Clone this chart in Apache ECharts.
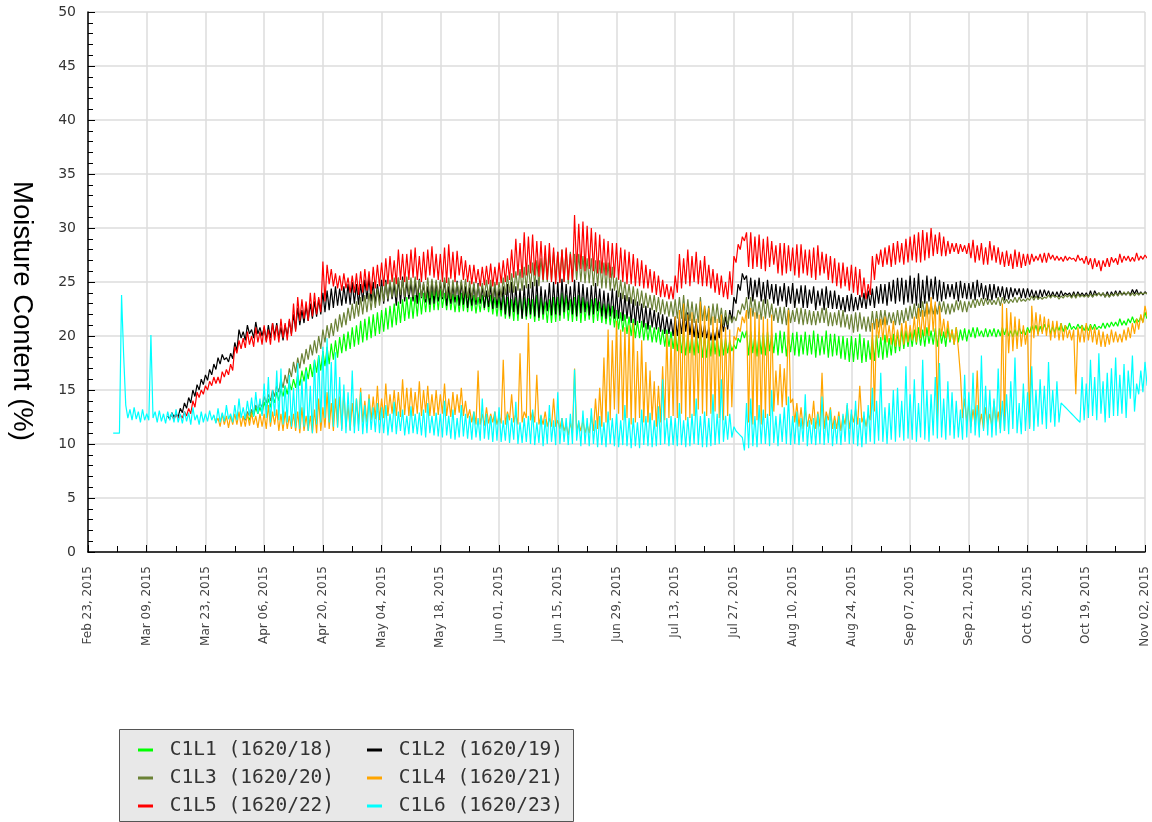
<!DOCTYPE html>
<html>
<head>
<meta charset="utf-8">
<title>Moisture Content</title>
<script src="https://cdn.jsdelivr.net/npm/echarts@6/dist/echarts.min.js"></script>
<style>
  html, body { margin: 0; padding: 0; background: #fff; }
  #chart { width: 1152px; height: 822px; }
</style>
</head>
<body>
<div id="chart"></div>
<script>
// x values are day numbers counted from Feb 23, 2015 (day 0)
const axisStart = Date.UTC(2015, 1, 23)
const dayMin = 0
const dayMax = 252
const tickDays = 14
const monthNames = ['Jan', 'Feb', 'Mar', 'Apr', 'May', 'Jun', 'Jul', 'Aug', 'Sep', 'Oct', 'Nov', 'Dec']

const yTitle = 'Moisture Content (%)'
const seriesNames = ['C1L1 (1620/18)', 'C1L2 (1620/19)', 'C1L3 (1620/20)', 'C1L4 (1620/21)', 'C1L5 (1620/22)', 'C1L6 (1620/23)']

// daily high and daily low readings, one pair per day from the start day
const c1l1Start = 38
const c1l1High = [
  12.6, 13.0, 13.4, 13.4,
  13.9, 14.2, 14.5, 14.8, 15.1, 15.4, 15.7,
  16.0, 16.4, 16.8, 17.1, 17.4, 17.8, 18.2,
  18.6, 19.0, 19.3, 19.6, 19.9, 20.2, 20.4,
  20.8, 21.0, 21.4, 21.6, 21.8, 22.0, 22.2,
  22.4, 22.6, 22.8, 23.0, 23.2, 23.4, 23.6,
  23.6, 23.8, 24.0, 24.0, 24.2, 24.2, 24.3,
  24.3, 24.0, 24.1, 23.9, 23.8, 24.0, 24.1,
  23.9, 23.8, 23.6, 23.8, 24.0, 23.8, 23.6,
  23.6, 23.8, 23.6, 23.4, 23.6, 23.9, 23.6,
  23.5, 23.4, 23.8, 23.6, 23.2, 23.4, 23.6,
  23.6, 24.0, 23.8, 23.4, 23.6, 23.8, 23.6,
  23.2, 23.4, 23.5, 23.2, 23.0, 23.0, 22.8,
  22.4, 22.2, 22.0, 21.8, 21.6, 21.4, 21.4,
  21.2, 21.0, 20.8, 20.8, 20.6, 20.6, 20.4,
  20.4, 20.6, 20.4, 20.2, 20.2, 20.5, 20.4,
  20.0, 20.2, 20.4, 20.0, 19.8, 19.8, 19.6,
  19.2, 19.8, 20.4,
  20.5, 20.4, 20.2, 20.4, 20.3, 20.4, 20.2,
  20.3, 20.5, 20.4, 20.0, 20.3, 20.4, 20.1,
  20.4, 20.1, 20.5, 20.2, 20.0, 20.5, 20.2,
  20.2, 20.0, 20.0, 19.8,
  20.0, 19.8, 20.2, 19.8, 19.6, 19.9, 20.1,
  19.9, 20.1, 19.8, 20.2, 20.4, 20.6, 20.5,
  20.4, 20.6, 20.8, 20.6, 20.8, 20.5, 20.7,
  20.7, 20.4, 20.8, 20.6, 20.8, 20.6, 20.7,
  20.6, 20.8, 20.8, 20.5, 20.7, 20.6, 20.7,
  20.6, 20.8, 20.8, 20.5, 20.6, 20.8, 20.6,
  20.8, 21.0, 21.0, 20.9, 21.1, 21.1, 20.9,
  21.0, 21.2, 21.0, 21.2, 20.9, 21.1, 21.0,
  21.0, 21.1, 21.1, 20.9, 21.2, 21.2, 21.3,
  21.3, 21.6, 21.4, 21.6, 21.8, 21.6, 21.8, 22.2
]
const c1l1Low = [
  12.2, 12.6, 12.8, 12.8,
  13.2, 13.4, 13.8, 14.0, 14.4, 14.6, 15.0,
  15.2, 15.4, 15.8, 16.0, 16.2, 16.6, 16.8,
  17.2, 17.4, 17.8, 18.0, 18.4, 18.6, 18.8,
  19.0, 19.2, 19.4, 19.6, 19.8, 20.0, 20.2,
  20.4, 20.6, 20.8, 21.0, 21.2, 21.4, 21.6,
  21.6, 21.8, 22.0, 22.2, 22.2, 22.4, 22.4,
  22.6, 22.4, 22.4, 22.2, 22.2, 22.3, 22.2,
  22.3, 22.1, 22.2, 22.4, 22.2, 22.0, 21.8,
  21.8, 21.6, 21.6, 21.4, 21.4, 21.6, 21.5,
  21.6, 21.3, 21.4, 21.5, 21.2, 21.2, 21.3,
  21.4, 21.6, 21.4, 21.3, 21.4, 21.2, 21.4,
  21.5, 21.2, 21.4, 21.2, 21.1, 21.0, 20.8,
  20.6, 20.4, 20.2, 20.0, 19.8, 19.8, 19.6,
  19.6, 19.4, 19.4, 19.2, 19.0, 19.0, 18.8,
  18.6, 18.4, 18.2, 18.4, 18.2, 18.4, 18.0,
  18.0, 18.1, 18.3, 18.1, 18.2, 18.4, 18.6,
  18.8, 19.4, 19.8,
  18.2, 18.4, 18.1, 18.3, 18.2, 18.6, 18.4,
  18.2, 18.4, 18.1, 18.5, 18.2, 18.1, 18.3,
  18.2, 18.3, 18.0, 18.2, 18.3, 18.0, 18.1,
  18.2, 17.9, 17.8, 17.6,
  17.6, 17.8, 17.5, 17.6, 17.8, 17.7, 18.0,
  17.8, 18.0, 18.2, 18.4, 18.6, 18.8, 19.0,
  19.0, 19.2, 19.1, 19.0, 19.3, 19.2, 19.0,
  19.3, 19.0, 19.4, 19.2, 19.4, 19.6, 19.5,
  19.9, 19.8, 20.0, 19.9, 19.9, 20.0, 19.9,
  20.0, 20.1, 20.0, 19.9, 20.0, 20.2, 20.1,
  20.3, 20.4, 20.2, 20.4, 20.5, 20.2, 20.3,
  20.5, 20.4, 20.6, 20.6, 20.6, 20.7, 20.5,
  20.5, 20.6, 20.6, 20.7, 20.7, 20.8, 20.9,
  20.9, 21.0, 21.0, 21.2, 21.2, 21.3, 21.3, 21.6
]

const c1l2Start = 19
const c1l2High = [
  12.6, 12.9, 12.8, 13.3, 13.8, 14.3, 15.0, 15.5, 16.0,
  16.4, 16.9, 17.4, 18.0, 18.3, 18.0, 18.4,
  19.4, 20.6, 20.4, 21.0, 20.6, 21.3, 20.8,
  20.8, 21.0, 21.2, 21.2, 20.8, 21.0, 21.4,
  22.0, 22.6, 22.4, 22.8, 23.0, 23.2, 23.4,
  24.0, 24.2, 24.4, 24.6, 24.4, 24.6, 24.8,
  25.0, 24.8, 24.8, 25.2, 25.4, 25.0, 24.8,
  25.2, 25.2, 24.9, 24.8, 25.4, 25.5, 25.0,
  24.9, 25.2, 25.3, 24.8, 24.6, 25.1, 25.0,
  25.0, 25.2, 24.6, 24.7, 25.1, 25.0, 24.6,
  24.5, 24.8, 24.9, 24.6, 24.2, 24.7, 24.8,
  24.4, 24.6, 24.8, 25.0, 24.6, 24.4, 24.7,
  24.8, 25.0, 25.2, 24.6, 24.3, 24.9, 25.0,
  25.0, 25.3, 24.8, 24.6, 25.2, 25.0, 24.8,
  24.5, 24.7, 24.9, 24.4, 24.2, 24.0, 24.4,
  24.2, 24.0, 23.8, 23.6, 23.4, 23.2, 23.0,
  22.8, 22.6, 22.4, 22.2, 22.0, 21.8, 21.6,
  21.8, 21.8, 22.2, 22.2, 21.6, 21.4, 21.2,
  21.0, 20.8, 20.6, 20.8, 21.6, 21.8, 22.4,
  23.6, 24.8, 25.8,
  25.6, 25.4, 25.2, 25.4, 25.0, 25.2, 24.8,
  24.8, 24.6, 24.9, 24.6, 24.9, 24.4, 24.7,
  24.7, 24.3, 24.6, 24.2, 24.4, 24.6, 24.2,
  24.2, 23.8, 23.6, 23.8,
  23.9, 23.6, 23.8, 24.0, 24.2, 24.4, 24.6,
  24.8, 24.8, 25.0, 25.2, 25.4, 25.4, 25.2,
  25.6, 25.4, 25.8, 25.2, 25.6, 25.3, 25.5,
  25.2, 25.0, 24.8, 24.8, 25.0, 25.1, 24.9,
  24.9, 25.0, 25.2, 24.9, 24.7, 24.8, 24.8,
  24.6, 24.6, 24.5, 24.5, 24.4, 24.4, 24.4,
  24.4, 24.3, 24.2, 24.3, 24.3, 24.2, 24.1,
  24.1, 24.2, 24.0, 24.0, 24.1, 24.1, 24.0,
  24.0, 24.2, 24.2, 24.0, 24.0, 24.1, 24.1,
  24.2, 24.2, 24.0, 24.1, 24.3, 24.3, 24.1, 24.1
]
const c1l2Low = [
  12.3, 12.5, 12.5, 12.9, 13.3, 13.8, 14.4, 15.0, 15.5,
  15.9, 16.4, 16.9, 17.4, 17.8, 17.6, 17.9,
  18.6, 19.8, 19.6, 20.2, 19.8, 20.2, 20.0,
  19.6, 19.8, 20.0, 19.8, 19.6, 20.0, 20.2,
  20.6, 21.0, 21.2, 21.4, 21.6, 21.8, 22.0,
  22.2, 22.4, 22.6, 22.8, 22.8, 23.0, 22.9,
  23.0, 22.9, 23.2, 23.4, 23.2, 23.0, 23.2,
  23.0, 23.2, 23.4, 22.8, 23.0, 23.2, 23.4,
  23.2, 23.0, 23.5, 23.1, 22.9, 23.0, 23.2,
  23.4, 22.8, 23.0, 23.1, 22.8, 22.9, 22.6,
  22.8, 22.9, 23.0, 22.6, 22.7, 22.5, 22.6,
  22.4, 22.0, 21.8, 22.2, 22.0, 21.6, 21.8,
  22.0, 21.8, 21.7, 22.0, 22.3, 21.9, 22.0,
  21.9, 22.2, 22.4, 22.0, 21.8, 22.1, 22.2,
  21.9, 22.0, 22.3, 21.8, 21.6, 21.8, 21.6,
  21.6, 21.4, 21.6, 21.2, 21.0, 21.2, 20.8,
  20.6, 20.8, 20.6, 20.4, 20.2, 20.2, 20.0,
  20.0, 20.2, 20.4, 20.1, 19.9, 19.8, 19.9,
  19.8, 19.6, 19.6, 19.8, 20.4, 20.6, 21.4,
  23.0, 24.2, 25.2,
  23.4, 23.2, 23.6, 23.2, 23.0, 23.4, 23.0,
  22.8, 23.2, 22.7, 23.0, 22.6, 23.0, 22.6,
  22.6, 23.0, 22.4, 22.8, 22.4, 22.6, 22.5,
  22.5, 22.4, 22.2, 22.3,
  22.3, 22.4, 22.6, 22.5, 22.8, 22.6, 23.0,
  23.0, 22.8, 23.2, 23.0, 23.2, 22.9, 23.1,
  23.0, 22.8, 22.6, 23.0, 23.2, 23.4, 23.2,
  23.2, 23.4, 23.6, 23.4, 23.2, 23.5, 23.4,
  23.4, 23.3, 23.6, 23.4, 23.3, 23.3, 23.5,
  23.6, 23.3, 23.4, 23.6, 23.8, 23.5, 23.5,
  23.6, 23.5, 23.4, 23.6, 23.7, 23.6, 23.6,
  23.6, 23.7, 23.8, 23.6, 23.6, 23.7, 23.7,
  23.6, 23.6, 23.8, 23.7, 23.6, 23.6, 23.7,
  23.7, 23.8, 23.8, 23.8, 23.9, 23.8, 23.8, 23.9
]

const c1l3Start = 37
const c1l3High = [
  12.6, 13.0, 13.2, 13.6, 13.8,
  14.4, 14.6, 15.0, 15.4, 16.0, 16.4, 17.0,
  17.6, 18.0, 18.4, 18.8, 19.2, 19.6, 20.0,
  20.6, 21.0, 21.2, 21.6, 22.0, 22.2, 22.6,
  23.0, 23.2, 23.6, 23.8, 24.0, 24.2, 24.4,
  24.6, 25.0, 25.2, 25.4, 25.4, 25.2, 25.5,
  25.4, 25.5, 25.2, 25.0, 25.4, 25.3, 25.2,
  25.2, 25.4, 25.4, 25.2, 25.0, 25.2, 25.3,
  25.1, 25.0, 24.8, 24.9, 25.2, 25.2, 25.0,
  25.0, 25.4, 25.6, 25.8, 26.0, 26.2, 26.4,
  26.6, 26.8, 27.0, 27.2, 27.4, 27.6, 27.8,
  27.8, 28.0, 28.0, 27.8, 27.6, 27.6, 27.4,
  27.2, 27.2, 27.0, 27.0, 26.8, 26.8, 26.4,
  25.4, 25.2, 25.0, 24.8, 24.6, 24.4, 24.2,
  24.0, 23.8, 23.8, 23.6, 23.4, 23.2, 23.2,
  23.4, 23.6, 23.8, 23.4, 23.2, 23.0, 23.6,
  22.8, 22.8, 23.0, 23.0, 22.6, 22.4, 22.0,
  21.8, 22.4, 23.0,
  23.6, 23.6, 23.4, 23.2, 23.4, 23.4, 23.0,
  22.6, 22.7, 22.7, 22.6, 22.4, 22.6, 22.6,
  22.5, 22.4, 22.3, 22.3, 22.6, 22.6, 22.2,
  22.2, 22.4, 22.4, 22.0,
  22.0, 22.2, 22.2, 21.8, 21.8, 22.3, 22.3,
  22.4, 22.4, 22.2, 22.2, 22.4, 22.4, 22.6,
  22.8, 23.0, 23.0, 23.2, 23.2, 23.0, 22.9,
  23.2, 23.2, 23.0, 23.0, 23.3, 23.3, 23.2,
  23.2, 23.4, 23.4, 23.5, 23.5, 23.4, 23.3,
  23.6, 23.6, 23.4, 23.4, 23.6, 23.6, 23.4,
  23.5, 23.7, 23.7, 23.6, 23.6, 23.8, 23.8,
  23.7, 23.7, 23.8, 23.8, 23.9, 23.9, 23.8,
  23.8, 23.9, 23.9, 24.0, 24.0, 23.9, 23.9,
  24.0, 24.0, 24.1, 24.1, 24.0, 24.0, 24.0, 24.0
]
const c1l3Low = [
  12.2, 12.6, 12.8, 13.2, 13.4,
  13.8, 14.0, 14.4, 14.8, 15.2, 15.6, 16.2,
  16.6, 17.0, 17.4, 17.8, 18.2, 18.4, 18.8,
  19.4, 19.8, 20.0, 20.4, 20.8, 21.0, 21.4,
  21.6, 21.8, 22.0, 22.2, 22.4, 22.6, 22.8,
  23.2, 23.4, 23.6, 23.6, 23.8, 23.6, 23.8,
  23.6, 23.8, 23.6, 23.4, 23.5, 23.7, 23.6,
  23.6, 23.5, 23.4, 23.6, 23.8, 23.6, 23.5,
  23.5, 23.3, 23.4, 23.6, 23.6, 23.4, 23.4,
  23.6, 23.8, 24.0, 24.0, 24.2, 24.2, 24.4,
  24.4, 24.6, 24.6, 25.0, 25.0, 25.2, 25.2,
  25.0, 25.0, 24.8, 25.0, 25.2, 25.0, 24.9,
  24.9, 24.6, 24.6, 24.4, 24.4, 24.2, 24.2,
  23.6, 23.4, 23.2, 23.0, 22.8, 22.8, 22.6,
  22.6, 22.4, 22.2, 22.0, 22.0, 21.8, 21.8,
  21.6, 21.6, 21.4, 21.4, 21.2, 21.2, 21.4,
  21.4, 21.0, 21.2, 21.2, 21.0, 21.0, 21.2,
  21.4, 22.0, 22.4,
  21.6, 21.8, 21.6, 21.5, 21.6, 21.7, 21.4,
  21.2, 21.1, 21.0, 21.2, 21.3, 21.1, 21.0,
  21.1, 21.0, 21.0, 21.2, 21.2, 20.9, 20.9,
  21.0, 20.8, 20.8, 20.6,
  20.3, 20.4, 20.6, 20.4, 20.4, 20.6, 20.8,
  21.0, 21.0, 21.2, 21.0, 21.0, 21.2, 21.4,
  21.6, 21.6, 21.8, 21.8, 22.0, 22.0, 22.0,
  22.2, 22.0, 22.0, 22.2, 22.4, 22.2, 22.2,
  22.6, 22.6, 22.8, 22.8, 22.9, 22.9, 22.9,
  22.8, 23.0, 23.0, 23.1, 23.1, 23.2, 23.2,
  23.3, 23.3, 23.4, 23.4, 23.5, 23.5, 23.6,
  23.4, 23.5, 23.6, 23.5, 23.5, 23.6, 23.6,
  23.6, 23.6, 23.7, 23.7, 23.6, 23.6, 23.7,
  23.7, 23.8, 23.8, 23.7, 23.7, 23.8, 23.9, 23.9
]

const c1l4Start = 30
const c1l4High = [
  12.6, 12.4, 12.8, 12.6, 12.6,
  12.8, 13.0, 12.6, 12.8, 12.9, 12.6, 12.8,
  12.8, 13.6, 13.0, 13.2, 12.8, 13.0, 12.6,
  12.8, 13.0, 13.4, 12.6, 12.6, 13.2, 14.2,
  13.4, 14.8, 13.8, 14.2, 14.4, 14.9, 13.6,
  13.8, 14.2, 15.2, 14.0, 14.6, 14.4, 15.4,
  14.2, 15.6, 14.6, 15.0, 14.8, 16.0, 15.2,
  15.2, 14.8, 15.8, 15.0, 15.4, 14.6, 15.0,
  14.6, 15.6, 14.2, 14.8, 14.6, 15.2, 14.0,
  13.2, 13.0, 16.8, 12.8, 13.4, 12.8, 13.0,
  12.6, 17.8, 13.0, 14.6, 12.8, 18.4, 13.0,
  21.2, 13.0, 16.4, 12.6, 13.0, 12.4, 14.2,
  12.2, 12.4, 11.8, 12.0, 17.0, 12.0, 12.2,
  11.8, 12.6, 14.2, 15.2, 18.0, 20.6, 19.6,
  21.4, 20.6, 20.8, 21.0, 21.2, 18.6, 19.6,
  17.6, 16.8, 15.8, 15.4, 17.2, 20.2, 19.8,
  21.8, 22.4, 23.0, 22.0, 22.2, 21.6, 23.2,
  22.8, 22.6, 21.8, 21.6, 22.0, 20.8, 20.6,
  20.0, 20.8, 21.8,
  22.4, 22.6, 22.2, 22.0, 21.8, 21.6, 22.0,
  16.8, 17.4, 17.0, 22.4, 14.2, 13.8, 13.4,
  13.2, 12.8, 14.0, 13.0, 16.6, 13.0, 13.4,
  12.6, 13.0, 12.6, 13.6,
  12.8, 13.2, 15.4, 12.6, 12.8, 21.2, 21.6,
  21.6, 21.8, 21.0, 21.4, 20.6, 21.2, 21.4,
  21.0, 21.8, 22.6, 22.4, 23.0, 23.6, 23.2,
  22.8, 21.6, 21.4, 20.6, 20.8, 16.4, 14.2,
  13.8, 13.2, 16.8, 12.8, 13.4, 12.8, 14.0,
  13.0, 23.0, 22.6, 22.2, 21.8, 21.6, 21.0,
  20.6, 22.8, 22.2, 22.0, 21.8, 21.6, 21.4,
  21.4, 21.2, 21.0, 20.6, 20.6, 20.8, 21.0,
  21.2, 21.0, 20.8, 20.6, 20.4, 20.2, 20.6,
  20.4, 20.2, 20.6, 20.8, 21.2, 21.6, 22.0, 22.8
]
const c1l4Low = [
  12.0, 11.6, 11.8, 11.5, 11.8,
  11.8, 11.6, 11.6, 11.7, 11.8, 11.5, 11.6,
  11.4, 11.6, 11.8, 11.2, 11.2, 11.4, 11.4,
  11.2, 11.0, 11.2, 11.2, 11.0, 11.0, 11.2,
  11.5, 11.4, 11.2, 11.6, 11.4, 11.6, 11.3,
  11.6, 11.8, 12.0, 12.0, 12.2, 12.3, 12.2,
  12.4, 12.6, 12.8, 12.6, 12.5, 12.7, 12.6,
  12.6, 12.8, 12.6, 12.9, 12.6, 12.6, 12.7,
  12.8, 12.6, 12.5, 12.7, 12.9, 12.6, 12.4,
  12.0, 11.8, 11.8, 11.7, 11.9, 12.0, 11.8,
  11.9, 11.8, 12.2, 12.0, 11.8, 12.0, 12.4,
  12.2, 12.0, 11.8, 11.8, 11.6, 11.6, 11.6,
  11.4, 11.2, 10.8, 11.0, 11.2, 11.2, 11.0,
  11.0, 11.2, 11.4, 11.6, 12.0, 12.2, 13.2,
  12.8, 12.2, 12.4, 11.8, 12.0, 12.4, 12.0,
  12.0, 12.2, 11.6, 12.0, 12.2, 12.4, 12.6,
  12.4, 12.8, 12.2, 12.4, 12.6, 13.2, 12.8,
  12.6, 12.8, 13.0, 12.4, 12.2, 12.6, 13.4,
  19.6, 20.4, 21.2,
  12.0, 11.8, 12.2, 11.8, 12.4, 12.6, 13.0,
  13.6, 13.4, 13.6, 13.8, 12.0, 11.6, 11.4,
  11.6, 11.8, 11.4, 11.6, 11.4, 12.2, 11.4,
  11.4, 11.2, 11.8, 11.4,
  12.0, 11.8, 12.0, 11.6, 12.2, 13.0, 19.8,
  19.6, 19.4, 19.2, 19.0, 19.0, 19.2, 19.4,
  19.6, 19.4, 19.8, 20.0, 20.0, 20.4, 12.2,
  20.0, 19.8, 19.6, 19.2, 18.8, 12.4, 12.0,
  11.6, 11.8, 11.6, 11.4, 11.8, 11.6, 11.8,
  11.4, 11.2, 18.4, 18.6, 18.8, 19.0, 19.2,
  11.6, 19.8, 20.0, 20.2, 20.0, 19.6, 19.8,
  19.6, 19.6, 19.8, 19.6, 14.6, 19.4, 19.4,
  19.6, 19.4, 19.2, 19.0, 19.0, 19.2, 19.4,
  19.4, 19.4, 19.6, 19.8, 20.2, 20.6, 21.2, 21.8
]

const c1l5Start = 20
const c1l5High = [
  12.6, 12.7, 12.7, 13.0, 13.3, 14.0, 14.8, 15.0,
  15.4, 15.8, 16.2, 16.2, 16.7, 16.9, 17.4,
  19.0, 19.6, 19.8, 20.4, 20.0, 20.8, 20.4,
  21.0, 20.6, 21.2, 21.0, 21.6, 21.2, 21.6,
  23.0, 23.6, 23.4, 23.2, 24.0, 24.0, 23.6,
  26.9, 26.6, 26.2, 25.8, 25.6, 25.8, 25.4,
  25.6, 25.8, 26.0, 26.2, 26.0, 26.4, 26.6,
  26.8, 27.2, 27.4, 27.0, 28.0, 27.6, 27.6,
  28.0, 28.2, 27.4, 27.8, 28.0, 28.3, 27.6,
  27.6, 28.2, 28.5, 27.8, 27.9, 27.4, 27.0,
  26.6, 26.6, 26.2, 26.4, 26.5, 26.7, 26.4,
  26.8, 27.0, 27.2, 28.0, 29.0, 28.6, 29.6,
  29.2, 29.4, 28.8, 28.8, 28.4, 28.6, 28.2,
  27.8, 28.0, 28.2, 27.6, 31.2, 30.4, 30.6,
  30.2, 30.0, 29.6, 29.4, 29.0, 28.8, 28.6,
  28.6, 28.2, 28.0, 27.8, 27.6, 27.2, 27.0,
  26.6, 26.2, 26.0, 25.6, 25.2, 24.8, 24.6,
  25.6, 27.6, 27.2, 28.0, 27.4, 27.8, 27.0,
  27.4, 26.6, 26.2, 25.8, 25.6, 25.0, 26.0,
  27.4, 28.5, 29.2,
  29.6, 29.6, 29.2, 29.4, 29.0, 29.2, 28.8,
  28.4, 28.6, 28.6, 28.4, 28.2, 28.5, 28.5,
  28.0, 28.0, 28.2, 28.4, 27.8, 27.6, 27.4,
  27.2, 26.8, 26.8, 26.4,
  26.6, 26.4, 26.2, 25.4, 24.8, 27.4, 27.6,
  28.0, 28.2, 28.4, 28.6, 28.8, 28.6, 29.0,
  29.2, 29.4, 29.6, 29.8, 29.6, 30.0, 29.4,
  29.6, 29.2, 28.8, 28.6, 28.6, 28.5, 28.4,
  28.6, 28.9, 28.4, 28.6, 28.2, 28.8, 28.4,
  28.2, 27.8, 27.9, 27.6, 28.0, 27.8, 27.6,
  27.6, 27.6, 27.4, 27.6, 27.7, 27.7, 27.5,
  27.4, 27.3, 27.4, 27.3, 27.2, 27.5, 27.2,
  27.4, 27.2, 27.2, 27.0, 27.0, 27.2, 27.3,
  27.2, 27.6, 27.4, 27.4, 27.3, 27.7, 27.4, 27.5
]
const c1l5Low = [
  12.3, 12.4, 12.4, 12.6, 12.8, 13.4, 14.3, 14.6,
  15.0, 15.4, 15.6, 15.6, 16.2, 16.4, 16.8,
  18.4, 18.8, 18.9, 19.2, 19.0, 19.4, 19.2,
  19.4, 19.2, 19.6, 19.4, 19.8, 19.6, 20.0,
  20.4, 21.4, 21.6, 21.4, 21.8, 22.0, 22.2,
  23.2, 24.8, 24.6, 24.4, 24.2, 24.4, 24.0,
  24.0, 23.8, 24.0, 24.2, 23.9, 24.4, 24.6,
  24.6, 24.8, 25.0, 24.8, 25.2, 25.0, 25.2,
  25.4, 25.2, 25.0, 25.2, 25.6, 25.4, 25.2,
  25.0, 24.9, 25.3, 25.0, 25.6, 25.2, 25.0,
  24.8, 24.9, 24.6, 24.7, 24.8, 24.6, 24.7,
  24.9, 25.0, 25.2, 25.4, 25.6, 25.4, 25.6,
  25.8, 25.6, 25.5, 25.2, 25.2, 25.0, 24.8,
  24.9, 25.0, 25.2, 25.0, 26.0, 26.2, 26.0,
  26.2, 26.0, 25.8, 25.8, 25.6, 25.4, 25.4,
  25.2, 25.0, 24.8, 24.8, 24.6, 24.6, 24.4,
  24.4, 24.0, 23.8, 23.6, 23.6, 23.4, 23.4,
  24.0, 24.4, 24.8, 24.6, 25.0, 24.8, 24.6,
  24.6, 24.4, 24.0, 23.8, 23.6, 23.4, 23.8,
  26.8, 28.0, 28.8,
  26.4, 26.2, 26.4, 26.2, 26.0, 26.4, 26.6,
  25.8, 25.6, 25.8, 26.0, 25.6, 25.4, 25.8,
  25.6, 25.4, 25.2, 25.6, 25.8, 25.2, 24.9,
  24.6, 24.4, 24.6, 24.2,
  24.0, 23.8, 23.6, 23.4, 23.8, 25.2, 26.6,
  26.4, 26.6, 26.4, 26.6, 26.8, 26.6, 26.8,
  27.0, 26.8, 26.8, 27.0, 27.2, 27.4, 27.6,
  27.4, 27.4, 27.6, 27.8, 27.6, 27.8, 27.6,
  27.2, 26.8, 27.0, 26.6, 26.6, 27.0, 26.8,
  26.6, 26.4, 26.5, 26.2, 26.4, 26.3, 26.5,
  26.6, 26.9, 27.0, 26.8, 26.8, 27.1, 27.0,
  27.0, 26.9, 27.0, 27.1, 26.9, 27.0, 26.7,
  26.6, 26.2, 26.4, 26.0, 26.4, 26.4, 26.8,
  26.6, 26.8, 27.0, 26.9, 26.9, 27.0, 27.1, 27.2
]

const c1l6Start = 6
const c1l6High = [
  11.0, 11.0, 23.8, 13.6, 13.2, 13.4, 13.0, 13.2,
  12.8, 20.1, 13.0, 13.1, 12.8, 13.0, 12.9,
  13.2, 12.8, 13.0, 12.9, 13.4, 12.7, 13.0,
  12.8, 13.1, 12.7, 13.3, 12.9, 13.6, 12.8,
  13.6, 14.2, 13.4, 14.0, 14.3, 14.8, 14.2,
  15.6, 16.2, 15.0, 16.8, 17.0, 15.4, 16.4,
  15.2, 17.5, 16.0, 16.8, 15.4, 17.8, 18.2,
  19.0, 19.8, 17.6, 18.5, 16.2, 15.5, 14.8,
  16.8, 14.2, 14.8, 13.6, 14.2, 13.4, 13.8,
  13.4, 13.6, 12.8, 13.9, 13.0, 13.2, 12.6,
  13.5, 12.8, 12.9, 13.2, 13.8, 12.6, 12.9,
  12.8, 14.0, 12.6, 13.2, 12.4, 13.6, 12.8,
  12.6, 13.0, 12.4, 14.2, 12.8, 12.6, 13.0,
  13.4, 12.2, 12.8, 12.4, 13.9, 12.0, 12.4,
  12.6, 13.2, 12.0, 12.7, 12.3, 13.6, 12.2,
  14.8, 12.4, 12.4, 12.8, 16.9, 12.2, 13.1,
  12.4, 13.3, 12.2, 12.6, 12.0, 13.0, 12.4,
  12.8, 12.2, 13.6, 12.4, 12.4, 12.0, 13.2,
  12.6, 12.9, 12.2, 13.5, 16.0, 12.4, 12.6,
  12.4, 13.8, 12.2, 12.5, 12.8, 14.2, 12.6,
  13.0, 12.4, 14.6, 12.8, 16.0, 12.6, 12.8,
  11.6, 11.0, 10.6,
  13.8, 14.2, 12.6, 13.6,
  13.2, 12.8, 15.0, 12.6, 12.8, 13.4, 14.4,
  12.6, 13.0, 12.4, 14.6, 12.2, 12.4, 12.8,
  14.4, 12.6, 13.2, 12.2, 12.6, 12.8, 13.8,
  13.2, 14.0, 12.4, 13.0, 13.6, 15.2, 14.0,
  16.6, 13.4, 13.8, 15.0, 15.2, 14.0, 17.2,
  14.6, 16.0, 13.8, 17.8, 15.0, 14.6, 16.2,
  17.5, 14.2, 15.8, 14.8, 14.0, 13.2, 16.4,
  14.8, 16.6, 13.6, 18.2, 15.4, 15.0, 14.2,
  17.0, 14.0, 14.6, 15.8, 18.0, 13.8, 15.6,
  14.8, 17.2, 15.0, 16.0, 15.4, 17.6, 15.0,
  15.8, 13.8, 13.4, 13.0, 12.6, 12.2, 16.2,
  15.6, 17.8, 16.2, 18.4, 15.8, 16.6, 17.0,
  18.0, 16.4, 17.4, 16.8, 18.2, 15.6, 16.8, 17.6
]
const c1l6Low = [
  11.0, 11.0, 18.2, 12.4, 12.2, 12.3, 12.0, 12.2,
  12.2, 12.4, 12.0, 12.1, 11.9, 12.2, 12.0,
  12.0, 11.9, 12.1, 11.8, 12.2, 11.8, 12.0,
  12.1, 12.2, 11.9, 12.0, 12.1, 12.3, 12.0,
  12.2, 12.4, 12.3, 12.6, 12.5, 12.8, 12.6,
  12.4, 12.0, 12.6, 12.2, 11.8, 12.0, 11.6,
  11.5, 11.4, 11.6, 11.2, 11.0, 11.8, 12.0,
  12.4, 12.0, 11.6, 11.5, 11.2, 11.0, 11.2,
  11.0, 11.2, 10.9, 11.0, 11.3, 11.1, 11.0,
  11.0, 10.8, 11.1, 10.9, 11.2, 10.8, 10.9,
  11.0, 10.9, 10.8, 10.6, 11.0, 10.8, 10.7,
  10.6, 10.8, 10.5, 10.4, 10.6, 10.7, 10.5,
  10.4, 10.6, 10.3, 10.5, 10.4, 10.2, 10.3,
  10.2, 10.3, 10.1, 10.4, 10.0, 10.1, 10.2,
  10.0, 9.9, 10.1, 9.8, 10.0, 10.2, 9.9,
  10.0, 10.2, 9.9, 10.0, 10.3, 9.8, 10.0,
  9.8, 10.0, 9.7, 9.9, 9.7, 10.0, 9.8,
  9.7, 9.9, 9.8, 9.6, 9.8, 9.6, 9.9,
  9.8, 9.7, 9.8, 9.9, 10.0, 9.8, 9.9,
  9.8, 9.9, 9.7, 9.8, 10.0, 9.9, 9.7,
  9.7, 9.8, 9.9, 10.0, 10.2, 10.4, 10.6,
  11.2, 10.8, 9.4,
  9.6, 9.8, 9.7, 10.0,
  10.0, 9.8, 10.1, 9.8, 10.2, 10.0, 9.9,
  10.0, 9.9, 10.2, 9.8, 10.0, 9.9, 10.0,
  9.9, 10.1, 9.8, 10.0, 9.9, 10.2, 10.0,
  10.0, 9.8, 9.7, 10.0, 10.2, 10.0, 10.3,
  10.2, 10.0, 10.4, 10.2, 10.6, 10.3, 10.5,
  10.4, 10.2, 10.6, 10.4, 10.2, 10.8, 10.5,
  10.6, 10.4, 10.8, 10.5, 10.6, 10.4, 10.6,
  11.0, 10.8, 10.6, 11.2, 10.8, 10.6, 10.8,
  11.0, 11.2, 10.9, 11.4, 11.0, 10.9, 11.2,
  11.4, 11.2, 11.6, 11.8, 11.4, 12.0, 11.6,
  12.0, 13.6, 13.2, 12.8, 12.4, 12.0, 12.2,
  12.4, 12.6, 12.2, 12.8, 12.0, 12.4, 12.6,
  12.6, 12.8, 12.4, 14.2, 13.0, 14.6, 14.8, 15.4
]

const seriesStarts = [c1l1Start, c1l2Start, c1l3Start, c1l4Start, c1l5Start, c1l6Start]
const seriesHighs = [c1l1High, c1l2High, c1l3High, c1l4High, c1l5High, c1l6High]
const seriesLows = [c1l1Low, c1l2Low, c1l3Low, c1l4Low, c1l5Low, c1l6Low]
const seriesColors = ['#00ff00', '#000000', '#6b8236', '#ffa500', '#ff0000', '#00ffff']

// each day: the high reading, then the low reading half a day later
const toPairs = (start, highs, lows) => {
  const out = []
  highs.forEach((h, i) => {
    out.push([start + i, h])
    if (lows[i] != null) out.push([start + i + 0.5, lows[i]])
  })
  return out
}

const dayLabel = (d) => {
  const t = new Date(axisStart + d * 86400000)
  const dd = String(t.getUTCDate()).padStart(2, '0')
  return monthNames[t.getUTCMonth()] + ' ' + dd + ', ' + t.getUTCFullYear()
}

const chart = echarts.init(document.getElementById('chart'))

const legendText = {
  fontFamily: 'DejaVu Sans Mono',
  fontSize: 19.5,
  lineHeight: 19.5,
  color: '#333'
}

const option = {
  animation: false,
  backgroundColor: '#fff',
  grid: { left: 88, right: 7, top: 12, bottom: 270 },
  graphic: [
    {
      type: 'rect',
      left: 119,
      top: 729,
      z: 0,
      shape: { width: 454, height: 92 },
      style: { fill: '#e8e8e8', stroke: '#555', lineWidth: 1 }
    },
    {
      // y axis title sits a little below the plot's middle, reading downward
      type: 'text',
      x: 22,
      y: 311,
      rotation: -Math.PI / 2,
      z: 10,
      style: {
        text: yTitle,
        fontFamily: 'Liberation Sans',
        fontSize: 27.5,
        fill: '#000',
        align: 'center',
        verticalAlign: 'middle'
      }
    }
  ],
  legend: [
    {
      data: [seriesNames[0], seriesNames[2], seriesNames[4]],
      orient: 'vertical',
      left: 133,
      top: 735,
      itemGap: 8,
      itemWidth: 15,
      itemHeight: 3,
      icon: 'rect',
      z: 5,
      formatter: (name) => ' ' + name,
      textStyle: legendText
    },
    {
      data: [seriesNames[1], seriesNames[3], seriesNames[5]],
      orient: 'vertical',
      left: 362,
      top: 735,
      itemGap: 8,
      itemWidth: 15,
      itemHeight: 3,
      icon: 'rect',
      z: 5,
      formatter: (name) => ' ' + name,
      textStyle: legendText
    }
  ],
  xAxis: {
    type: 'value',
    min: dayMin,
    max: dayMax,
    interval: tickDays,
    axisLine: { lineStyle: { color: '#000', width: 1.5 } },
    axisTick: { inside: true, length: 7, lineStyle: { color: '#000' } },
    minorTick: { show: true, splitNumber: 2, length: 6, lineStyle: { color: '#000' } },
    splitLine: { show: true, lineStyle: { color: '#dddddd', width: 1.5 } },
    axisLabel: {
      rotate: 90,
      margin: 14,
      fontFamily: 'DejaVu Sans',
      fontSize: 12,
      color: '#444',
      formatter: (v) => dayLabel(v)
    }
  },
  yAxis: {
    type: 'value',
    min: 0,
    max: 50,
    interval: 5,
    axisLine: { show: true, lineStyle: { color: '#000', width: 1.5 } },
    axisTick: { show: true, inside: true, length: 7, lineStyle: { color: '#000' } },
    minorTick: { show: true, splitNumber: 5, length: 5, lineStyle: { color: '#000' } },
    splitLine: { show: true, lineStyle: { color: '#dddddd', width: 1.5 } },
    axisLabel: { margin: 12, fontFamily: 'DejaVu Sans', fontSize: 14, color: '#333' }
  },
  series: seriesNames.map((name, i) => ({
    name: name,
    type: 'line',
    data: toPairs(seriesStarts[i], seriesHighs[i], seriesLows[i]),
    showSymbol: false,
    symbol: 'none',
    color: seriesColors[i],
    lineStyle: { color: seriesColors[i], width: 1.2 },
    z: 2 + i
  }))
}

chart.setOption(option)
</script>
</body>
</html>
